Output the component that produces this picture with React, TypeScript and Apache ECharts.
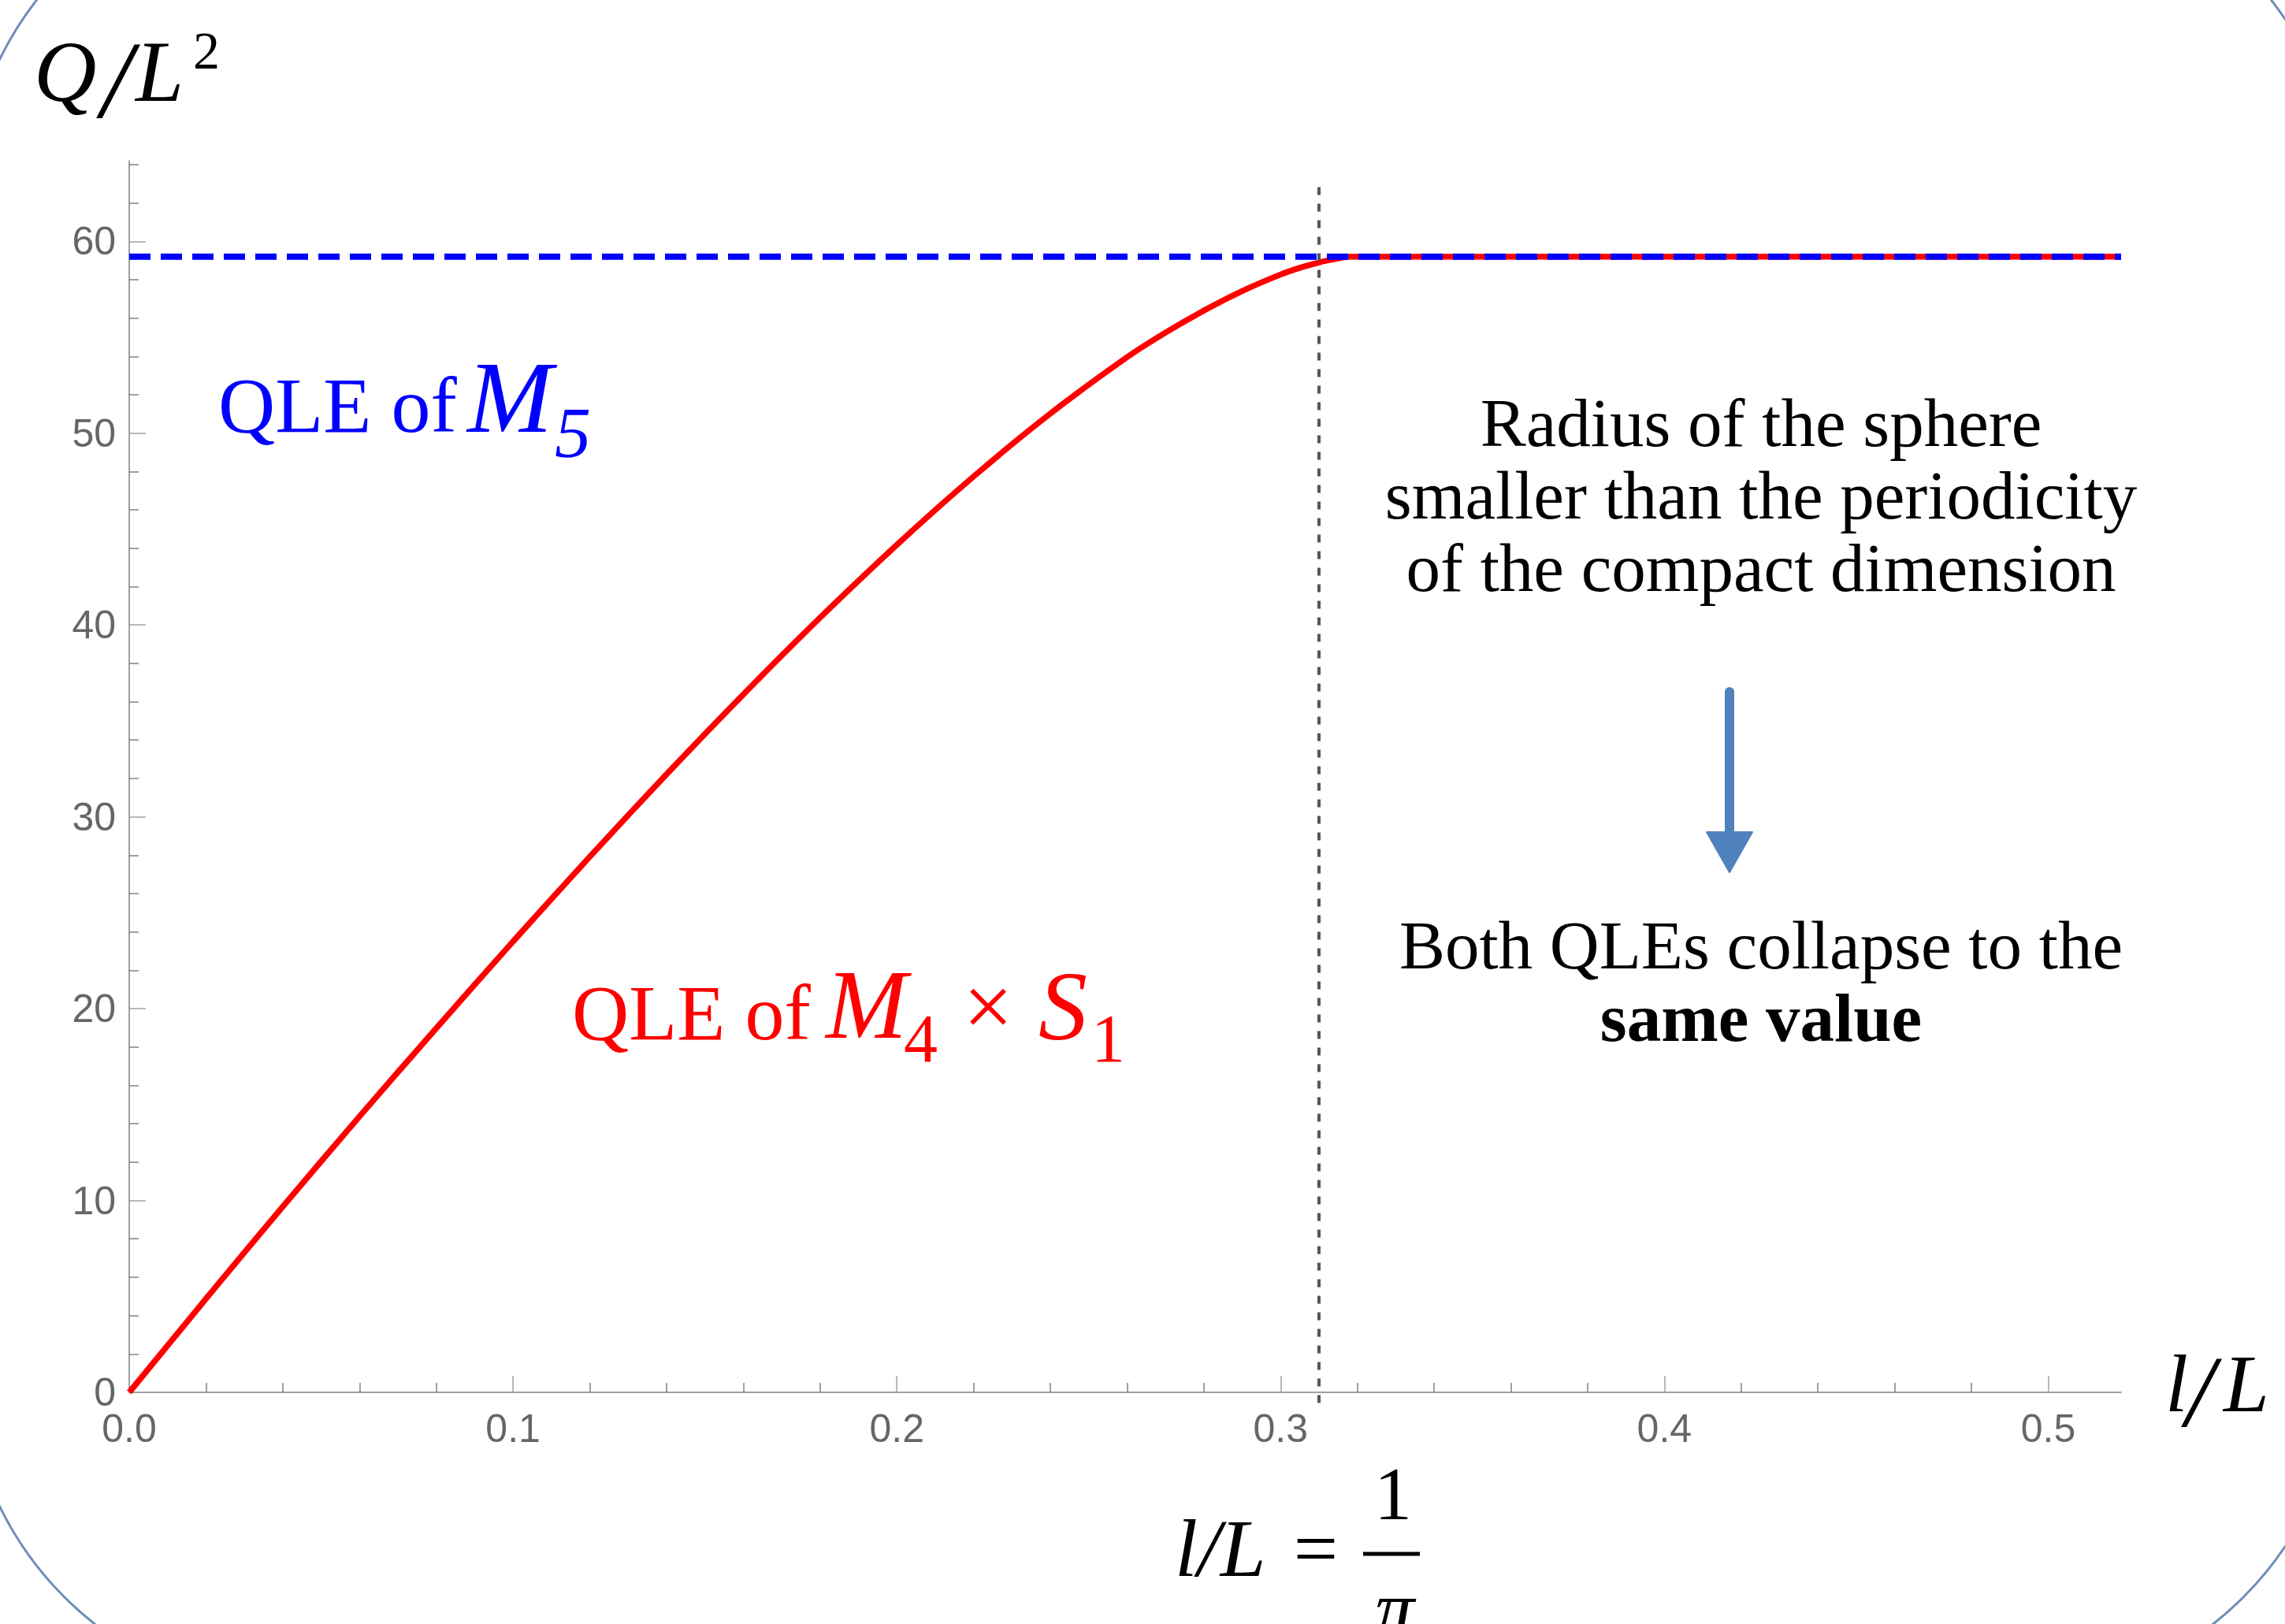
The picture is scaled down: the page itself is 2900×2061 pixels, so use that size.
import React, { useEffect, useRef } from "react";
import * as echarts from "echarts";

// ---- data ----
const xTickValues = [0, 0.1, 0.2, 0.3, 0.4, 0.5];
const yTickValues = [0, 10, 20, 30, 40, 50, 60];
const X_MAX = 0.519;
const Y_MAX = 64.2;

// QLE of M4 x S1 (red, solid)
const redX = [0, 0.02, 0.04, 0.06, 0.08, 0.1, 0.12, 0.14, 0.16, 0.18, 0.2, 0.22, 0.24, 0.26, 0.27, 0.28, 0.29, 0.3, 0.305, 0.31, 0.314, 0.318, 0.33, 0.4, 0.519];
const redY = [0, 4.88, 9.68, 14.38, 18.98, 23.5, 27.92, 32.22, 36.38, 40.38, 44.18, 47.74, 51.02, 53.96, 55.24, 56.39, 57.41, 58.27, 58.62, 58.9, 59.07, 59.2, 59.2, 59.2, 59.2];

// QLE of M5 (blue, dashed)
const blueX = [0, 0.519];
const blueY = [59.2, 59.2];

// vertical marker l/L = 1/pi (dotted)
const markerX = [0.31, 0.31];
const markerY = [-0.55, 63.0];

const SERIF = "'Liberation Serif', 'Times New Roman', serif";
const SANS = "'Liberation Sans', Arial, Helvetica, sans-serif";
const CENTRAL = 0.3375;

type TOpts = { italic?: boolean; bold?: boolean; color?: string; align?: string };

function txMid(text: string, x: number, yMid: number, size: number, o: TOpts = {}) {
  const align = o.align ?? "left";
  return {
    type: "text",
    x,
    y: yMid,
    z: 100,
    silent: true,
    style: {
      text,
      fontSize: size,
      fontFamily: SERIF,
      fontStyle: o.italic ? "italic" : "normal",
      fontWeight: o.bold ? "bold" : "normal",
      fill: o.color ?? "#000",
      align,
      verticalAlign: "middle",
      textAlign: align,
      textVerticalAlign: "middle",
    },
  };
}
function tx(text: string, x: number, baseline: number, size: number, o: TOpts = {}) {
  return txMid(text, x, baseline - CENTRAL * size, size, o);
}

const BLUE = "#0000ff";
const RED = "#ff0000";
const ARROW = "#4f81bd";

const graphics: any[] = [
  // rounded frame
  {
    type: "rect",
    z: 1,
    silent: true,
    shape: { x: -44, y: -166, width: 3017, height: 2319, r: 430 },
    style: { fill: "none", stroke: "#6f8db9", lineWidth: 3 },
  },
  // y axis name Q/L^2
  tx("Q", 43, 128, 110, { italic: true }),
  txMid("/", 148, 101, 140, { italic: true, align: "center" }),
  tx("L", 172, 128, 110, { italic: true }),
  tx("2", 245, 87, 68),
  // x axis name l/L
  tx("l", 2748, 1791, 104, { italic: true }),
  txMid("/", 2792, 1766, 130, { italic: true, align: "center" }),
  tx("L", 2822, 1791, 104, { italic: true }),
  // l/L = 1/pi
  tx("l/L", 1491, 2000, 104, { italic: true }),
  txMid("=", 1670, 1973 - 0.0775 * 100, 100, { align: "center" }),
  {
    type: "line",
    z: 100,
    silent: true,
    shape: { x1: 1730, y1: 1972, x2: 1802, y2: 1972 },
    style: { stroke: "#000", lineWidth: 5 },
  },
  tx("1", 1768, 1928, 96, { align: "center" }),
  tx("π", 1770, 2075, 100, { italic: true, align: "center" }),
  // QLE of M5
  tx("QLE of", 277, 548, 100, { color: BLUE }),
  tx("M", 593, 548, 130, { italic: true, color: BLUE }),
  tx("5", 704, 580, 92, { italic: true, color: BLUE }),
  // QLE of M4 x S1
  tx("QLE of", 726, 1319, 100, { color: RED }),
  tx("M", 1048, 1317, 124, { italic: true, color: RED }),
  tx("4", 1147, 1347, 86, { color: RED }),
  txMid("×", 1254, 1286 - 0.0775 * 112, 112, { color: RED, align: "center" }),
  tx("S", 1318, 1319, 124, { italic: true, color: RED }),
  tx("1", 1385, 1347, 86, { color: RED }),
  // right annotation
  tx("Radius of the sphere", 2235, 566, 87, { align: "center" }),
  tx("smaller than the periodicity", 2235, 658, 87, { align: "center" }),
  tx("of the compact dimension", 2235, 750, 87, { align: "center" }),
  tx("Both QLEs collapse to the", 2235, 1229, 87, { align: "center" }),
  tx("same value", 2235, 1321, 87, { align: "center", bold: true }),
  // arrow
  {
    type: "line",
    z: 100,
    silent: true,
    shape: { x1: 2195, y1: 878, x2: 2195, y2: 1062 },
    style: { stroke: ARROW, lineWidth: 12, lineCap: "round" },
  },
  {
    type: "polygon",
    z: 100,
    silent: true,
    shape: { points: [[2166, 1056], [2224, 1056], [2195, 1107]] },
    style: { fill: ARROW, stroke: ARROW, lineWidth: 2, lineJoin: "round" },
  },
];

const option: any = {
  animation: false,
  backgroundColor: "#ffffff",
  grid: {
    left: 164,
    right: 208,
    top: 204,
    bottom: 294,
    containLabel: false,
    outerBoundsMode: "none",
  },
  xAxis: {
    type: "value",
    min: 0,
    max: X_MAX,
    interval: 0.1,
    splitLine: { show: false },
    axisLine: { show: true, onZero: true, lineStyle: { color: "#808080", width: 1.5 } },
    axisTick: {
      show: true,
      inside: true,
      length: 21,
      customValues: xTickValues,
      lineStyle: { color: "#a0a0a0", width: 1.5 },
    },
    minorTick: { show: true, splitNumber: 5, length: 12, lineStyle: { color: "#808080", width: 1.5 } },
    axisLabel: {
      show: true,
      customValues: xTickValues,
      formatter: (v: number) => v.toFixed(1),
      fontSize: 50,
      fontFamily: SANS,
      color: "#666666",
      margin: 21,
    },
  },
  yAxis: {
    type: "value",
    min: 0,
    max: Y_MAX,
    interval: 10,
    splitLine: { show: false },
    axisLine: { show: true, onZero: true, lineStyle: { color: "#808080", width: 1.5 } },
    axisTick: {
      show: true,
      inside: true,
      length: 21,
      customValues: yTickValues,
      lineStyle: { color: "#a0a0a0", width: 1.5 },
    },
    minorTick: { show: true, splitNumber: 5, length: 12, lineStyle: { color: "#808080", width: 1.5 } },
    axisLabel: {
      show: true,
      customValues: yTickValues,
      formatter: (v: number) => String(Math.round(v)),
      fontSize: 50,
      fontFamily: SANS,
      color: "#666666",
      margin: 17,
    },
  },
  series: [
    {
      name: "QLE of M4 x S1",
      type: "line",
      data: redX.map((x, i) => [x, redY[i]]),
      symbol: "none",
      showSymbol: false,
      smooth: 0.25,
      lineStyle: { color: RED, width: 7.5 },
      z: 2,
    },
    {
      name: "QLE of M5",
      type: "line",
      data: blueX.map((x, i) => [x, blueY[i]]),
      symbol: "none",
      showSymbol: false,
      lineStyle: { color: BLUE, width: 8, type: [27, 13] },
      z: 3,
    },
    {
      name: "l/L = 1/pi",
      type: "line",
      data: markerX.map((x, i) => [x, markerY[i]]),
      symbol: "none",
      showSymbol: false,
      clip: false,
      lineStyle: { color: "#555555", width: 4, type: [10, 11] },
      z: 4,
    },
  ],
  graphic: graphics,
};

export default function App() {
  const ref = useRef<HTMLDivElement>(null);
  useEffect(() => {
    document.body.style.margin = "0";
    const chart = echarts.init(ref.current!, null, { renderer: "svg" });
    chart.setOption(option);
    return () => chart.dispose();
  }, []);
  return (
    <div
      ref={ref}
      style={{ position: "absolute", left: 0, top: 0, width: 2900, height: 2061, background: "#fff" }}
    />
  );
}
